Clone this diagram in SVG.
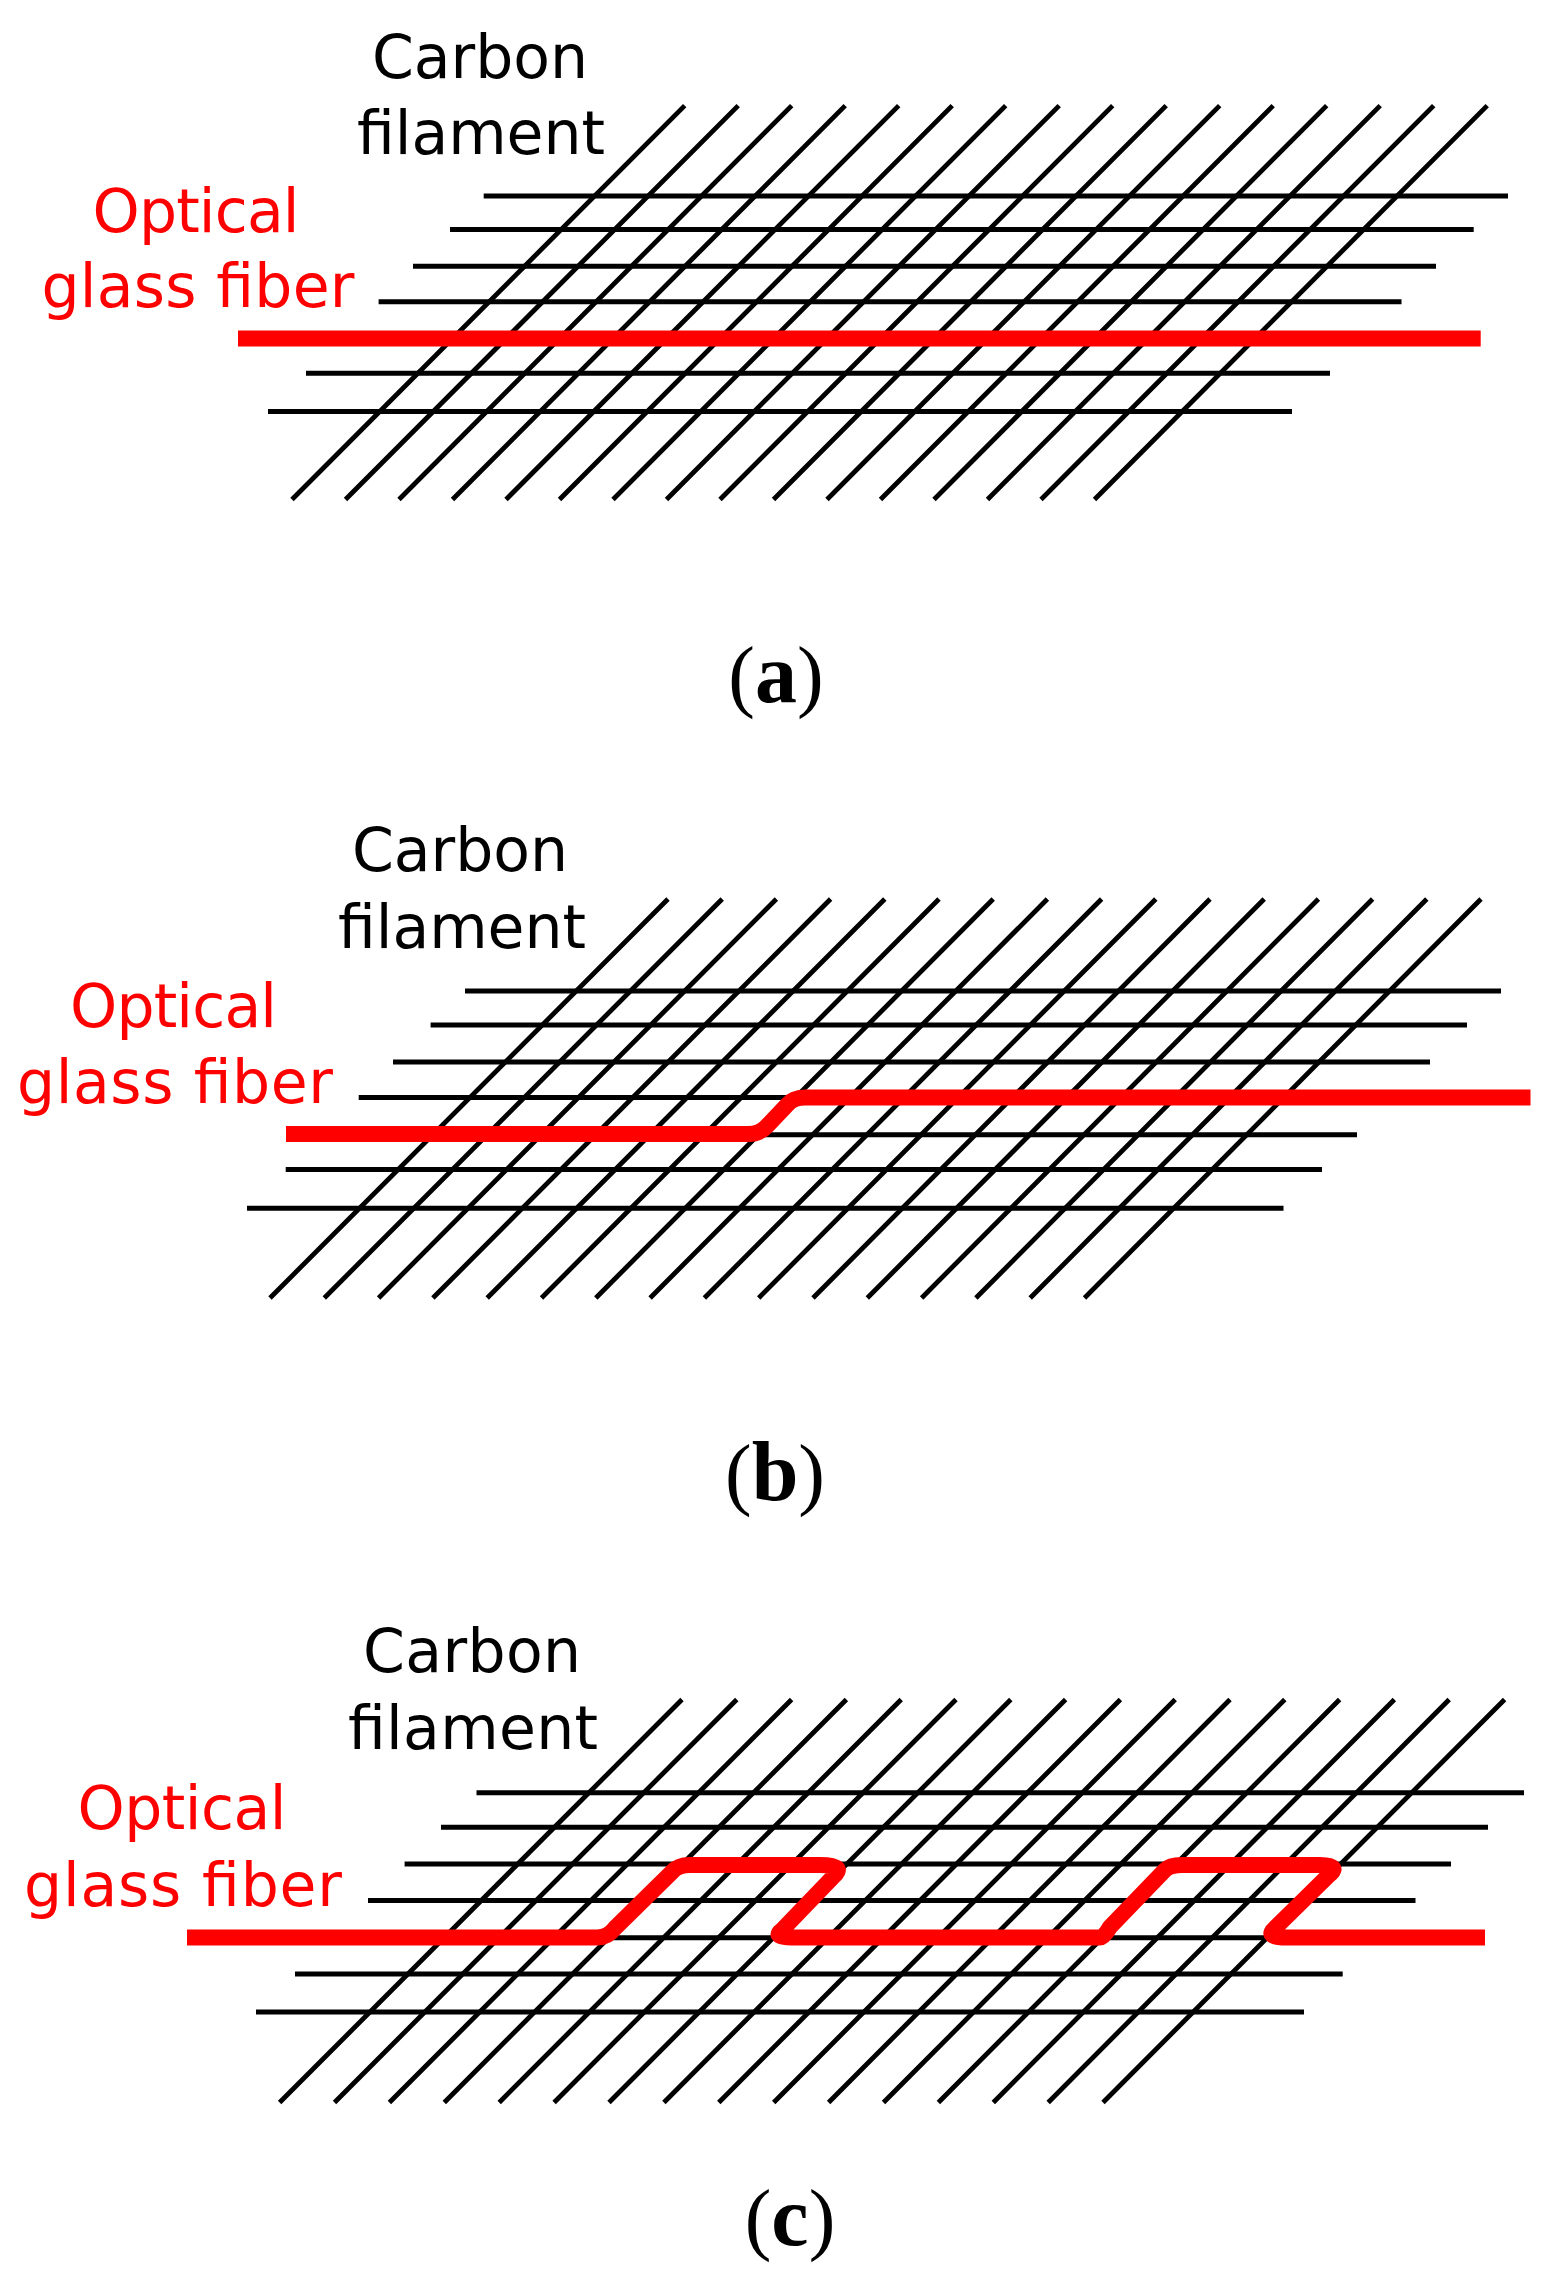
<svg xmlns="http://www.w3.org/2000/svg" width="1561" height="2279" viewBox="0 0 1561 2279">
<style>
.k{stroke:#000;stroke-width:5;fill:none}
.d{stroke:#000;stroke-width:4.8;fill:none}
.r{stroke:#f00;stroke-width:16;fill:none;stroke-linejoin:round}
text{font-family:"DejaVu Sans","Liberation Sans",sans-serif;font-size:60px;text-anchor:middle;fill:#000}
.o{fill:#f00}
.c{font-family:"Liberation Serif",serif;font-size:80px}
.c tspan{font-weight:bold;font-size:84px}
</style>
<rect width="1561" height="2279" fill="#fff"/>
<g id="panel-a">
<path class="d" d="M292 499.5L684.7 105.6M345.5 499.5L738.2 105.6M399 499.5L791.7 105.6M452.5 499.5L845.2 105.6M506 499.5L898.7 105.6M559.5 499.5L952.2 105.6M613 499.5L1005.7 105.6M666.5 499.5L1059.2 105.6M720 499.5L1112.7 105.6M773.5 499.5L1166.2 105.6M827 499.5L1219.7 105.6M880.5 499.5L1273.2 105.6M934 499.5L1326.7 105.6M987.5 499.5L1380.2 105.6M1041 499.5L1433.7 105.6M1094.5 499.5L1487.2 105.6"/>
<path class="k" d="M483.7 196H1508M450 229.6H1473.7M413 266.3H1436M378.6 301.7H1401.5M306 373.3H1330M268 411.4H1292"/>
<path class="r" d="M238 338.4H1480.7"/>
<text x="480" y="78" textLength="216">Carbon</text>
<text x="481" y="154" textLength="248">filament</text>
<text class="o" x="196" y="232" textLength="207">Optical</text>
<text class="o" x="198" y="307" textLength="313">glass fiber</text>
<text class="c" x="776" y="702">(<tspan>a</tspan>)</text>
</g>
<g id="panel-b">
<path class="d" d="M270 1298L668 899M324.3 1298L722.2 899M378.6 1298L776.4 899M432.9 1298L830.6 899M487.2 1298L884.8 899M541.5 1298L939 899M595.8 1298L993.2 899M650.1 1298L1047.4 899M704.4 1298L1101.6 899M758.7 1298L1155.8 899M813 1298L1210 899M867.3 1298L1264.2 899M921.6 1298L1318.4 899M975.9 1298L1372.6 899M1030.2 1298L1426.8 899M1084.5 1298L1481 899"/>
<path class="k" d="M465 991H1501M430.6 1025H1467M393 1062H1430M358.7 1097.5H1395M322 1134.7H1357M285.7 1169.6H1322M247 1208.2H1283.5"/>
<path class="r" d="M286 1134H748Q760 1134 767 1126L787 1105Q793 1097.5 805 1097.5H1530.5"/>
<text x="460" y="871" textLength="216">Carbon</text>
<text x="462" y="948" textLength="248">filament</text>
<text class="o" x="173.5" y="1027" textLength="207">Optical</text>
<text class="o" x="175" y="1103" textLength="316">glass fiber</text>
<text class="c" x="775" y="1500">(<tspan>b</tspan>)</text>
</g>
<g id="panel-c">
<path class="d" d="M279.6 2102.5L682 1699.5M334.5 2102.5L736.8 1699.5M389.4 2102.5L791.6 1699.5M444.3 2102.5L846.4 1699.5M499.2 2102.5L901.2 1699.5M554.1 2102.5L956 1699.5M609 2102.5L1010.8 1699.5M663.9 2102.5L1065.6 1699.5M718.8 2102.5L1120.4 1699.5M773.7 2102.5L1175.2 1699.5M828.6 2102.5L1230 1699.5M883.5 2102.5L1284.8 1699.5M938.4 2102.5L1339.6 1699.5M993.3 2102.5L1394.4 1699.5M1048.2 2102.5L1449.2 1699.5M1103 2102.5L1504.6 1699.5"/>
<path class="k" d="M476.5 1792.8H1524M441 1827.2H1488M404.6 1864H1451M368 1900.5H1415.5M332 1937.7H1380M295 1974H1342.7M256 2012H1304"/>
<path class="r" d="M187 1937.5H597Q608 1937.5 615 1928L672 1872Q678 1865 690 1865H820Q847 1865 833 1877L782 1930Q772 1937.5 792 1937.5H1100Q1104 1937.5 1110 1927L1165 1870Q1170 1865 1182 1865H1320Q1342 1865 1328 1876L1275 1928Q1264 1937.5 1287 1937.5H1485"/>
<text x="472" y="1672" textLength="218">Carbon</text>
<text x="473" y="1749" textLength="250">filament</text>
<text class="o" x="182" y="1829" textLength="209">Optical</text>
<text class="o" x="183" y="1906" textLength="318">glass fiber</text>
<text class="c" x="790" y="2245">(<tspan>c</tspan>)</text>
</g>
</svg>
